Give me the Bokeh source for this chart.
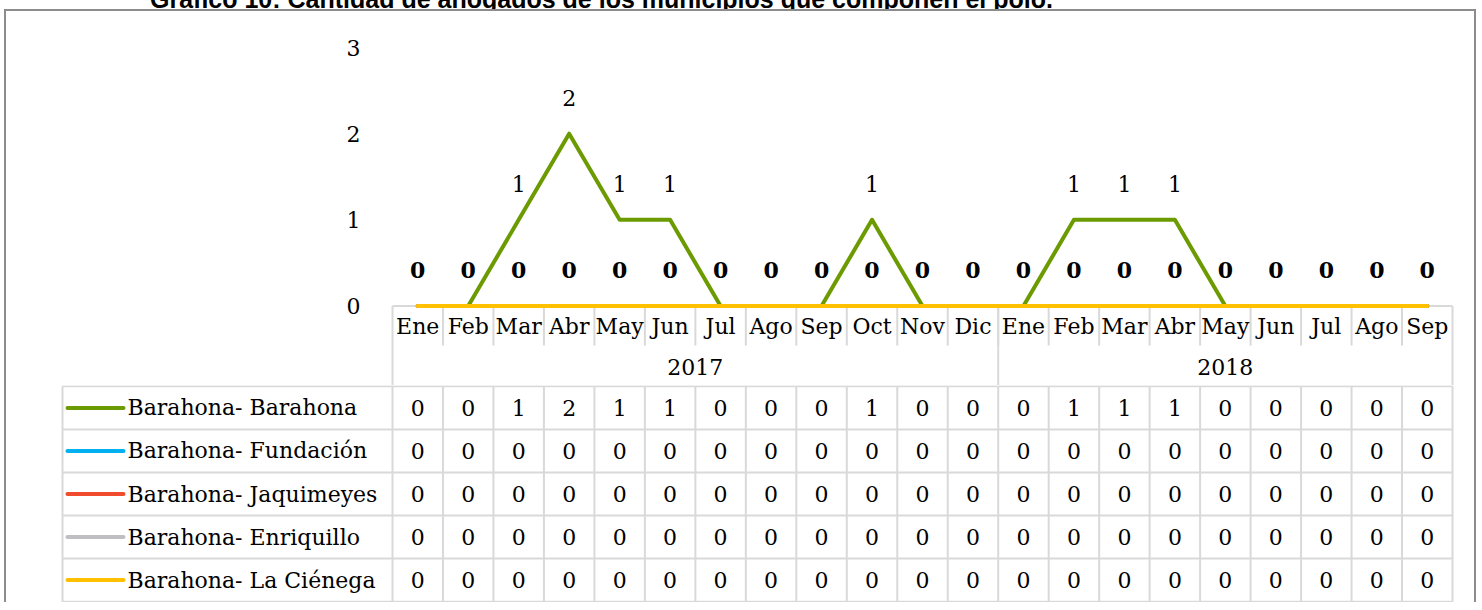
from bokeh.plotting import figure
from bokeh.models import Range1d, LinearAxis, FixedTicker, Div
from bokeh.layouts import column
from bokeh.embed import file_html
from bokeh.resources import INLINE
from bokeh.core.properties import value

# ---------------- data ----------------
title = "Gráfico 10: Cantidad de ahogados de los municipios que componen el polo."
months = ["Ene", "Feb", "Mar", "Abr", "May", "Jun", "Jul", "Ago", "Sep", "Oct", "Nov", "Dic",
          "Ene", "Feb", "Mar", "Abr", "May", "Jun", "Jul", "Ago", "Sep"]
years = ["2017", "2018"]
year_counts = [12, 9]
series_names = ["Barahona- Barahona", "Barahona- Fundación", "Barahona- Jaquimeyes",
                "Barahona- Enriquillo", "Barahona- La Ciénega"]
barahona = [0, 0, 1, 2, 1, 1, 0, 0, 0, 1, 0, 0, 0, 1, 1, 1, 0, 0, 0, 0, 0]
fundacion = [0, 0, 0, 0, 0, 0, 0, 0, 0, 0, 0, 0, 0, 0, 0, 0, 0, 0, 0, 0, 0]
jaquimeyes = [0, 0, 0, 0, 0, 0, 0, 0, 0, 0, 0, 0, 0, 0, 0, 0, 0, 0, 0, 0, 0]
enriquillo = [0, 0, 0, 0, 0, 0, 0, 0, 0, 0, 0, 0, 0, 0, 0, 0, 0, 0, 0, 0, 0]
la_cienega = [0, 0, 0, 0, 0, 0, 0, 0, 0, 0, 0, 0, 0, 0, 0, 0, 0, 0, 0, 0, 0]
series = [barahona, fundacion, jaquimeyes, enriquillo, la_cienega]
colors = ["#6b9b00", "#00b0f0", "#f04b2c", "#bfbfc3", "#ffc000"]
y_ticks = [0, 1, 2, 3]

# ---------------- layout constants (pixels, page coordinates) ----------------
FONT = "DejaVu Serif"
FS = "22px"
GRID = "#d9d9d9"
BORDER = "2px solid #8c8c8c"
OX, OY = 6, 11                 # top-left of the framed content
TITLE_H = 9
W = 1468
H1 = 385 - OY
H2 = 217
LEFT1 = 372 - OX               # chart frame left edge
CAT0 = 392 - OX                # left edge of first category cell
K = (1452 - 392) / 21          # px per category
Y0PX = 305.5 - OY              # pixel row of value 0 in chart
U = (305.5 - 47) / 3           # px per unit
LEG_LEFT_PX = 62 - OX
n = len(months)
xs = list(range(n))

# ---------------- chart (top) ----------------
p1 = figure(width=W, height=H1, output_backend="svg", toolbar_location=None,
            x_axis_type=None, y_axis_type=None,
            x_range=Range1d(-0.5 - (CAT0 - LEFT1) / K, -0.5 + (W - CAT0) / K),
            y_range=Range1d(-(H1 - Y0PX) / U, Y0PX / U),
            min_border_left=LEFT1, min_border_right=0, min_border_top=0, min_border_bottom=0)
p1.frame_align = False
p1.outline_line_color = None
p1.background_fill_color = "white"
p1.border_fill_color = "white"

yaxis = LinearAxis(ticker=FixedTicker(ticks=y_ticks))
yaxis.axis_line_color = None
yaxis.major_tick_line_color = None
yaxis.minor_tick_line_color = None
yaxis.major_label_text_font = FONT
yaxis.major_label_text_font_size = FS
yaxis.major_label_text_color = "#000000"
yaxis.major_label_standoff = 6
p1.add_layout(yaxis, "left")


def py(page_y):
    return -(page_y - OY - Y0PX) / U


y_month = py(326)
y_month_bottom = py(345)
y_year = py(366)
y_bottom = -(H1 - Y0PX) / U

# header table lines
p1.segment(x0=[-0.5], x1=[n - 0.5], y0=[0], y1=[0], line_color=GRID, line_width=2)
sep_x = [i - 0.5 for i in range(1, n)]
p1.segment(x0=sep_x, x1=sep_x, y0=[0] * len(sep_x), y1=[y_month_bottom] * len(sep_x),
           line_color=GRID, line_width=2)
bounds = [-0.5]
acc = -0.5
for c in year_counts:
    acc += c
    bounds.append(acc)
p1.segment(x0=bounds, x1=bounds, y0=[0] * len(bounds), y1=[y_bottom] * len(bounds),
           line_color=GRID, line_width=2)

# month and year labels
p1.text(x=xs, y=[y_month] * n, text=months, text_font=value(FONT), text_font_size=value(FS),
        text_align="center", text_baseline="middle", text_color="#000000")
year_x = [(bounds[i] + bounds[i + 1]) / 2 for i in range(len(years))]
p1.text(x=year_x, y=[y_year] * len(years), text=years, text_font=value(FONT),
        text_font_size=value(FS), text_align="center", text_baseline="middle",
        text_color="#000000")

# series lines
for s, c in zip(series, colors):
    p1.line(x=xs, y=s, line_color=c, line_width=4, line_join="round", line_cap="round")

# data labels (overlapping labels of several series appear bold)
bx, by, bt, rx, ry, rt = [], [], [], [], [], []
for i in range(n):
    vals = [s[i] for s in series]
    for v in sorted(set(vals)):
        if vals.count(v) > 1:
            bx.append(i); by.append(v); bt.append(str(v))
        else:
            rx.append(i); ry.append(v); rt.append(str(v))
p1.text(x=bx, y=by, text=bt, text_font=value(FONT), text_font_size=value(FS),
        text_font_style="bold", text_align="center", text_baseline="middle",
        y_offset=-36, text_color="#000000")
p1.text(x=rx, y=ry, text=rt, text_font=value(FONT), text_font_size=value(FS),
        text_align="center", text_baseline="middle", y_offset=-36, text_color="#000000")

# ---------------- data table (bottom) ----------------
x2s = -0.5 - CAT0 / K
x2e = -0.5 + (W - CAT0) / K


def px2x(px):
    return x2s + px / K


nrow = len(series)
p2 = figure(width=W, height=H2, output_backend="svg", toolbar_location=None,
            x_axis_type=None, y_axis_type=None,
            x_range=Range1d(x2s, x2e), y_range=Range1d(-0.02, nrow + 0.02),
            min_border_left=0, min_border_right=0, min_border_top=0, min_border_bottom=0)
p2.frame_align = False
p2.outline_line_color = None

leg_left = px2x(LEG_LEFT_PX)
hy = list(range(nrow + 1))
p2.segment(x0=[leg_left] * len(hy), x1=[n - 0.5] * len(hy), y0=hy, y1=hy,
           line_color=GRID, line_width=2)
vx = [leg_left] + [i - 0.5 for i in range(n + 1)]
p2.segment(x0=vx, x1=vx, y0=[0] * len(vx), y1=[nrow] * len(vx), line_color=GRID, line_width=2)

for r, (name, s, c) in enumerate(zip(series_names, series, colors)):
    yc = nrow - r - 0.5
    p2.segment(x0=[px2x(LEG_LEFT_PX + 5)], x1=[px2x(LEG_LEFT_PX + 61)], y0=[yc], y1=[yc],
               line_color=c, line_width=4, line_cap="round")
    p2.text(x=[px2x(LEG_LEFT_PX + 65)], y=[yc], text=[name], text_font=value(FONT),
            text_font_size=value(FS), text_align="left", text_baseline="middle",
            text_color="#000000")
    p2.text(x=xs, y=[yc] * n, text=[str(v) for v in s], text_font=value(FONT),
            text_font_size=value(FS), text_align="center", text_baseline="middle",
            text_color="#000000")

framed = column(p1, p2, spacing=0,
                styles={"border-top": BORDER, "border-left": BORDER, "border-right": BORDER,
                        "margin-left": "4px"})

# title of the source document, cut by the top edge as in the original picture
title_div = Div(
    text=('<div style="position:relative;top:-4px;margin-top:-24px;margin-left:150px;'
          'white-space:nowrap;'
          'font-family:\'Liberation Sans\',Arial,sans-serif;font-weight:bold;'
          'font-size:25px;line-height:25px;color:#000000">' + title + '</div>'),
    width=W + 8, height=TITLE_H, margin=0, styles={"overflow": "hidden"})

layout = column(title_div, framed, spacing=0)

open("out.html", "w").write(file_html(layout, INLINE))
